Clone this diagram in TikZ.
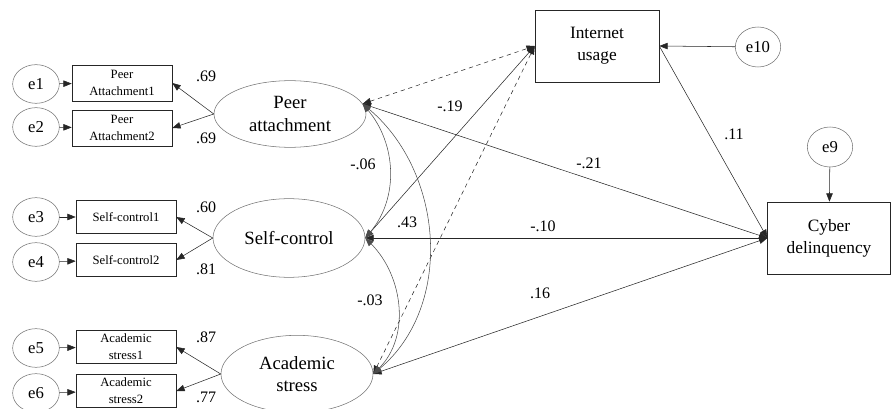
\documentclass[tikz,border=0pt]{standalone}
\usepackage{fontspec}
\setmainfont{Liberation Serif}
\usetikzlibrary{arrows.meta,shapes.geometric}

\begin{document}
\begin{tikzpicture}[x=0.75pt,y=0.75pt,>={Triangle[length=2.2mm,width=1.7mm]},line cap=round,
  err/.style={ellipse,draw=black!55,inner sep=0pt,minimum width=35pt,minimum height=29pt,font=\fontsize{12.5}{14}\selectfont},
  ind/.style={rectangle,draw=black!85,inner sep=0pt,minimum width=75pt,minimum height=27pt,align=center,font=\fontsize{9.5}{12.5}\selectfont},
  latent/.style={ellipse,draw=black!55,inner sep=0pt,minimum width=114pt,minimum height=59pt,align=center,font=\fontsize{14}{17}\selectfont},
  obs/.style={rectangle,draw=black!85,inner sep=0pt,minimum width=93pt,minimum height=54pt,align=center,font=\fontsize{13}{16.5}\selectfont},
  coef/.style={inner sep=1pt,font=\fontsize{12}{14}\selectfont},
  path/.style={draw=black!85,thin},
  cov/.style={draw=black!70,thin,<->}]
\useasboundingbox (0,0) rectangle (892,-409);

% peer attachment
\node[err] (e1) at (36,-84) {e1};
\node[err] (e2) at (36,-127) {e2};
\node[ind] (pa1) at (122,-83) {Peer\\Attachment1};
\node[ind] (pa2) at (122,-128) {Peer\\Attachment2};
\node[latent,minimum height=50pt] (peer) at (290,-114) {Peer\\attachment};

% self-control
\node[err] (e3) at (36,-217) {e3};
\node[err] (e4) at (36,-262) {e4};
\node[ind,minimum height=25pt] (sc1) at (126,-217) {Self-control1};
\node[ind,minimum height=25pt] (sc2) at (126,-260) {Self-control2};
\node[latent] (self) at (289,-238) {Self-control};

% academic stress
\node[err] (e5) at (36,-348) {e5};
\node[err] (e6) at (36,-393) {e6};
\node[ind,minimum height=25pt] (as1) at (126,-347) {Academic\\stress1};
\node[ind,minimum height=25pt] (as2) at (126,-391) {Academic\\stress2};
\node[latent,minimum height=58pt] (acad) at (297,-374) {Academic\\stress};

% outcomes
\node[obs] (net) at (597,-46) {Internet\\usage};
\node[err,minimum width=34pt,minimum height=30pt] (e10) at (758,-47) {e10};
\node[obs,minimum width=92pt] (cyber) at (829,-238) {Cyber\\delinquency};
\node[err,minimum width=34pt,minimum height=30pt] (e9) at (830,-147) {e9};

% measurement part
\foreach \e/\b in {e1/pa1,e2/pa2,e3/sc1,e4/sc2,e5/as1,e6/as2}
  \draw[path,->] (\e) -- (\b);
\foreach \l/\b in {peer/pa1,peer/pa2,self/sc1,self/sc2,acad/as1,acad/as2}
  \draw[path,->] (\l.west) -- (\b.east);

% structural part
\draw[path,->] (e10) -- (net.east);
\draw[path,->] (e9) -- (cyber);
\draw[path,<->,dashed] (peer.8) -- (net.west);
\draw[path,<->] (self.east) -- (net.west);
\draw[path,<->,dashed] (acad.east) -- (net.west);
\draw[path,<->] (peer.8) -- (cyber.west);
\draw[path,<->] (self.east) -- (cyber.west);
\draw[path,<->] (acad.east) -- (cyber.west);
\draw[path,->] (net.east) -- (cyber.west);

% covariances
\draw[cov] (peer.8) to[out=-50,in=50] (self.east);
\draw[cov] (self.east) to[out=-45,in=45] (acad.east);
\draw[cov] (peer.8) to[out=-40,in=40] (acad.east);

% coefficients
\node[coef] (l1) at (206,-76) {.69};
\node[coef] (l2) at (206,-138) {.69};
\node[coef] (l3) at (206,-207) {.60};
\node[coef] (l4) at (206,-269) {.81};
\node[coef] (l5) at (206,-337) {.87};
\node[coef] (l6) at (206,-397) {.77};
\node[coef] (b1) at (450,-106) {-.19};
\node[coef] (c1) at (363,-164) {-.06};
\node[coef] (b2) at (589,-163) {-.21};
\node[coef] (c2) at (407,-222) {.43};
\node[coef] (b3) at (543,-226) {-.10};
\node[coef] (c3) at (370,-300) {-.03};
\node[coef] (b4) at (540,-293) {.16};
\node[coef] (b5) at (734,-134) {.11};
\end{tikzpicture}
\end{document}
